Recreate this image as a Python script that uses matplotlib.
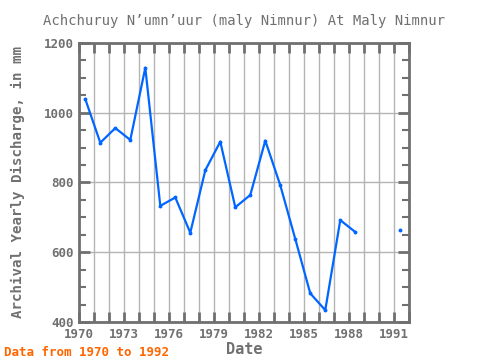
import numpy as np
import matplotlib
matplotlib.use("Agg")
import matplotlib.pyplot as plt
from matplotlib.ticker import MultipleLocator

years = [1970, 1971, 1972, 1973, 1974, 1975, 1976, 1977, 1978, 1979, 1980,
         1981, 1982, 1983, 1984, 1985, 1986, 1987, 1988, 1989, 1990, 1991]
discharge = [1039, 914, 956, 922, 1129, 733, 757, 656, 835, 917, 729,
             764, 920, 792, 638, 482, 434, 692, 658, np.nan, np.nan, 664]
xtick_labels = ["1970", "1973", "1976", "1979", "1982", "1985", "1988", "1991"]
yticks = [400, 600, 800, 1000, 1200]

title = "Achchuruy N\u2019umn\u2019uur (maly Nimnur) At Maly Nimnur"
gray = "#707070"

plt.rcParams['font.family'] = ['DejaVu Sans Mono']

fig = plt.figure(figsize=(4.8, 3.6), dpi=100)
ax = fig.add_axes([0.1646, 0.1056, 0.6874, 0.775])

x = np.array(years) + 0.42
y = np.array(discharge, dtype=float)
ax.plot(x, y, color="#0066ff", lw=1.6, marker='o', markersize=1.8, zorder=3)

ax.set_xlim(1970, 1992)
ax.set_ylim(400, 1200)
all_years = years + [1992]
ax.set_xticks(all_years)
ax.set_xticklabels([str(v) if str(v) in xtick_labels else "" for v in all_years])
ax.set_yticks(yticks)
ax.yaxis.set_minor_locator(MultipleLocator(50))
ax.grid(True, which='major', axis='x', color="#b4b4b4", lw=1)
ax.grid(True, which='major', axis='y', color="#b4b4b4", lw=1)
ax.set_axisbelow(True)

for s in ax.spines.values():
    s.set_color(gray)
    s.set_linewidth(2)

ax.tick_params(axis='x', which='both', direction='in', top=True, bottom=True,
               length=7, width=2, color=gray)
ax.tick_params(axis='y', which='major', direction='in', left=True, right=True,
               length=8, width=2, color=gray)
ax.tick_params(axis='y', which='minor', direction='in', left=True, right=True,
               length=5, width=1.5, color=gray)
ax.tick_params(labelsize=9, labelcolor=gray, pad=4)
for lab in ax.get_xticklabels() + ax.get_yticklabels():
    lab.set_fontweight('bold')

ax.set_title(title, fontsize=10, color=gray, pad=13)
ax.set_xlabel("Date", fontsize=11, color=gray, fontweight='bold', labelpad=1)
ax.set_ylabel("Archival Yearly Discharge, in mm", fontsize=10.2, color=gray,
              fontweight='bold', labelpad=13)

fig.text(0.008, 0.012, "Data from 1970 to 1992", color="#ff6600",
         fontsize=9, fontweight='bold')

fig.savefig("out.png", dpi=100)
